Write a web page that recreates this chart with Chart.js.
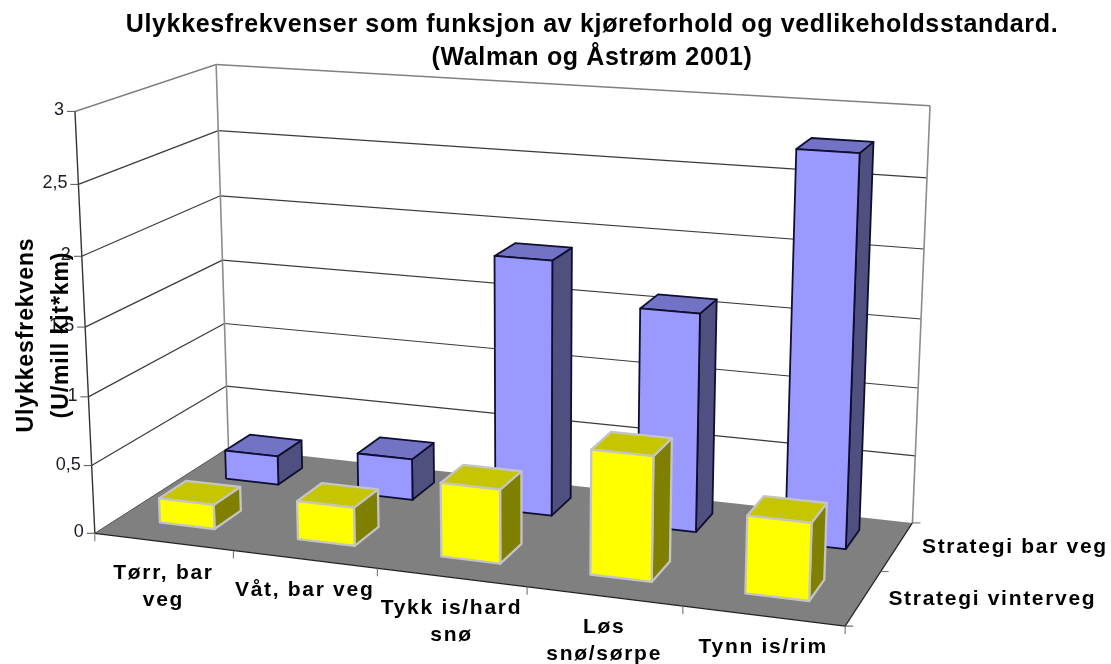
<!DOCTYPE html>
<html lang="no">
<head>
<meta charset="utf-8">
<title>Ulykkesfrekvenser</title>
<style>
    html, body { margin: 0; padding: 0; background: #fff; }
    canvas { display: block; filter: blur(0.55px); }
</style>
<script src="https://cdn.jsdelivr.net/npm/chart.js@4/dist/chart.umd.min.js"></script>
</head>
<body>
<canvas id="ulykkeChart" width="1111" height="664"></canvas>
<script>
// =========================================================
//                          DATA
// =========================================================
const titleLines = ['Ulykkesfrekvenser som funksjon av kjøreforhold og vedlikeholdsstandard.', '(Walman og Åstrøm 2001)'];
const yAxisLines = ['Ulykkesfrekvens', '(U/mill kjt*km)'];
const categories = [['Tørr, bar', 'veg'], ['Våt, bar veg'], ['Tykk is/hard', 'snø'], ['Løs', 'snø/sørpe'], ['Tynn is/rim']];
const seriesNames = ['Strategi vinterveg', 'Strategi bar veg'];   // front row first
const vintervegValues = [0.18, 0.28, 0.53, 0.88, 0.54];
const barVegValues = [0.22, 0.31, 1.88, 1.59, 2.78];

const BAR_SHARE = 0.4;
const DEPTH_SHIFT = 0.02;   // rows sit a little behind the middle of their slots
const FONT = '"Liberation Sans", Arial, sans-serif';

// colours per row: front face, top, side, outline
const rowColors = [
    { front: '#ffff00', top: '#c6c600', side: '#808000', line: '#c4c4c4', lineWidth: 2.3 },
    { front: '#9999ff', top: '#7373c6', side: '#4f4f80', line: '#0e0e30', lineWidth: 1.8 }
];

// =========================================================
//      PERSPECTIVE: box (u, w, v in 0..1) -> page pixels
// =========================================================
// u = along categories, w = depth into the picture, v = value height
const cameraPoints = [
    [0, 0, 0, 95, 531], [1, 0, 0, 844, 621], [1, 1, 0, 914, 522], [0, 1, 0, 229, 444],
    [0, 0, 1, 75, 110], [0, 1, 1, 216, 66], [1, 1, 1, 931, 105],
    [0.2, 0, 0, 233, 555], [0.4, 0, 0, 378, 573], [0.6, 0, 0, 527, 590], [0.8, 0, 0, 682, 607],
    [0, 0, 2 / 3, 82, 255], [0, 0, 1 / 6, 93, 462], [0, 1, 2 / 3, 220, 197], [0, 1, 1 / 6, 225, 388],
    [1, 1, 5 / 6, 927, 179], [1, 1, 2 / 3, 923, 249]
];

function solveCamera(points) {
    const n = 11;
    const A = [];
    for (let i = 0; i < n; i++) A.push(new Array(n + 1).fill(0));
    const addRow = (row, rhs) => {
        for (let i = 0; i < n; i++) {
            for (let j = 0; j < n; j++) A[i][j] += row[i] * row[j];
            A[i][n] += row[i] * rhs;
        }
    };
    points.forEach(([u, w, v, px, py]) => {
        const x = px / 1000, y = py / 1000;
        addRow([u, w, v, 1, 0, 0, 0, 0, -x * u, -x * w, -x * v], x);
        addRow([0, 0, 0, 0, u, w, v, 1, -y * u, -y * w, -y * v], y);
    });
    for (let c = 0; c < n; c++) {
        let best = c;
        for (let r = c + 1; r < n; r++) if (Math.abs(A[r][c]) > Math.abs(A[best][c])) best = r;
        [A[c], A[best]] = [A[best], A[c]];
        for (let r = 0; r < n; r++) {
            if (r === c) continue;
            const f = A[r][c] / A[c][c];
            for (let k = c; k <= n; k++) A[r][k] -= f * A[c][k];
        }
    }
    return A.map((row, i) => row[n] / row[i]);
}

const cam = solveCamera(cameraPoints);

function project(u, w, v) {
    const d = cam[8] * u + cam[9] * w + cam[10] * v + 1;
    return {
        x: 1000 * (cam[0] * u + cam[1] * w + cam[2] * v + cam[3]) / d,
        y: 1000 * (cam[4] * u + cam[5] * w + cam[6] * v + cam[7]) / d
    };
}

function polygon(ctx, pts, fill, stroke, width) {
    ctx.beginPath();
    pts.forEach((p, i) => (i ? ctx.lineTo(p.x, p.y) : ctx.moveTo(p.x, p.y)));
    ctx.closePath();
    if (fill) { ctx.fillStyle = fill; ctx.fill(); }
    if (stroke) {
        ctx.strokeStyle = stroke;
        ctx.lineWidth = width;
        ctx.lineJoin = 'round';
        ctx.stroke();
    }
}

function segment(ctx, a, b, color, width) {
    ctx.beginPath();
    ctx.moveTo(a.x, a.y);
    ctx.lineTo(b.x, b.y);
    ctx.strokeStyle = color;
    ctx.lineWidth = width;
    ctx.stroke();
}

function textLines(ctx, lines, x, y, lineHeight) {
    lines.forEach((line, i) => ctx.fillText(line, x, y + i * lineHeight));
}

// =========================================================
//          PLUGIN: walls, floor and 3D bars
// =========================================================
const box3dPlugin = {
    id: 'box3d',
    beforeDraw(chart) {
        chart.ctx.letterSpacing = '0.65px';
    },
    beforeDatasetsDraw(chart) {
        const ctx = chart.ctx;
        const area = chart.chartArea;
        const yScale = chart.scales.y;
        const xScale = chart.scales.x;
        const depthScale = chart.scales.depth;
        const toU = px => (px - area.left) / area.width;
        const toV = py => (area.bottom - py) / area.height;
        const toW = px => (px - depthScale.left) / depthScale.width;

        ctx.save();

        // floor
        polygon(ctx, [project(0, 0, 0), project(1, 0, 0), project(1, 1, 0), project(0, 1, 0)], '#808080');
        segment(ctx, project(0, 0, 0), project(1, 0, 0), '#222', 1.2);
        segment(ctx, project(1, 0, 0), project(1, 1, 0), '#222', 1.2);
        segment(ctx, project(0, 0, 0), project(0, 1, 0), '#555', 1);

        // gridlines on the two walls
        yScale.ticks.forEach((tick, i) => {
            const v = toV(yScale.getPixelForTick(i));
            const isTop = i === yScale.ticks.length - 1;
            if (v > 0) {
                const color = isTop ? '#808080' : '#3a3a3a';
                const width = isTop ? 1.6 : 1.2;
                segment(ctx, project(0, 0, v), project(0, 1, v), color, width);
                segment(ctx, project(0, 1, v), project(1, 1, v), color, width);
            }
        });
        segment(ctx, project(0, 1, 0), project(0, 1, 1), '#8c8c8c', 1.6);
        segment(ctx, project(1, 1, 0), project(1, 1, 1), '#8c8c8c', 1.6);
        segment(ctx, project(0, 0, 0), project(0, 0, 1), '#333', 1.4);

        // value axis ticks and labels
        ctx.font = '18px ' + FONT;
        ctx.letterSpacing = '0px';
        ctx.fillStyle = '#1c1c28';
        ctx.textAlign = 'right';
        ctx.textBaseline = 'middle';
        yScale.ticks.forEach((tick, i) => {
            const p = project(0, 0, toV(yScale.getPixelForTick(i)));
            segment(ctx, { x: p.x - 8, y: p.y }, p, '#555', 1);
            ctx.fillText(tick.label, p.x - 11, p.y - 1);
        });

        // category ticks
        for (let i = 0; i <= categories.length; i++) {
            const u = i / categories.length;
            const p = project(u, 0, 0);
            segment(ctx, p, { x: p.x, y: p.y + 8 }, '#666', 1);
        }
        const rightEnd = project(1, 0, 0);
        segment(ctx, rightEnd, { x: rightEnd.x + 8, y: rightEnd.y }, '#444', 1);
        const rightMid = project(1, 0.5, 0);
        segment(ctx, rightMid, { x: rightMid.x + 8, y: rightMid.y }, '#666', 1);
        const rightBack = project(1, 1, 0);
        segment(ctx, rightBack, { x: rightBack.x + 8, y: rightBack.y }, '#666', 1);

        // bars, back row first, each one from the bar element the library laid out
        for (let d = chart.data.datasets.length - 1; d >= 0; d--) {
            const colors = rowColors[d];
            const center = toW(depthScale.getPixelForValue(d)) + DEPTH_SHIFT;
            const halfDepth = BAR_SHARE / seriesNames.length / 2;
            const w0 = center - halfDepth, w1 = center + halfDepth;
            chart.getDatasetMeta(d).data.forEach(bar => {
                const u0 = toU(bar.x - bar.width / 2);
                const u1 = toU(bar.x + bar.width / 2);
                const top = toV(bar.y);
                const bottom = toV(bar.base);
                polygon(ctx, [project(u1, w0, bottom), project(u1, w1, bottom), project(u1, w1, top), project(u1, w0, top)],
                    colors.side, colors.line, colors.lineWidth);
                polygon(ctx, [project(u0, w0, top), project(u1, w0, top), project(u1, w1, top), project(u0, w1, top)],
                    colors.top, colors.line, colors.lineWidth);
                polygon(ctx, [project(u0, w0, bottom), project(u1, w0, bottom), project(u1, w0, top), project(u0, w0, top)],
                    colors.front, colors.line, colors.lineWidth);
            });
        }

        // category labels, hung under the front floor edge
        ctx.font = 'bold 21px ' + FONT;
        ctx.letterSpacing = '1.7px';
        ctx.fillStyle = '#000';
        ctx.textAlign = 'center';
        xScale.ticks.forEach((tick, i) => {
            const p = project(toU(xScale.getPixelForTick(i)), 0, 0);
            textLines(ctx, [].concat(tick.label), p.x, p.y + 31, 27);
        });

        // series labels next to the right floor edge
        ctx.textAlign = 'left';
        depthScale.ticks.forEach((tick, i) => {
            const p = project(1, toW(depthScale.getPixelForTick(i)), 0);
            ctx.fillText(tick.label, p.x + 25, p.y + 1);
        });

        // value axis title
        ctx.save();
        ctx.translate(44, 335);
        ctx.rotate(-Math.PI / 2);
        ctx.font = 'bold 23px ' + FONT;
        ctx.letterSpacing = '0.9px';
        ctx.textAlign = 'center';
        textLines(ctx, yAxisLines, 0, -17, 35);
        ctx.restore();

        ctx.restore();
    }
};

// =========================================================
//                        CHART
// =========================================================
new Chart(document.getElementById('ulykkeChart').getContext('2d'), {
    type: 'bar',
    data: {
        labels: categories,
        datasets: seriesNames.map((name, i) => ({
            label: name,
            data: i === 0 ? vintervegValues : barVegValues,
            grouped: false,
            barPercentage: BAR_SHARE,
            categoryPercentage: 1,
            backgroundColor: 'transparent',
            borderWidth: 0
        }))
    },
    options: {
        responsive: false,
        animation: false,
        layout: { padding: { left: 73, right: 0, top: 0, bottom: 133 } },
        plugins: {
            legend: { display: false },
            tooltip: { enabled: false },
            title: {
                display: true,
                text: titleLines,
                color: '#000',
                font: { family: FONT, size: 25, weight: 'bold', lineHeight: 1.3 },
                padding: { top: 9, bottom: 36 }
            }
        },
        scales: {
            x: { display: false },
            depth: { type: 'category', axis: 'x', labels: seriesNames, offset: true, display: false },
            y: {
                display: false,
                min: 0,
                max: 3,
                ticks: {
                    stepSize: 0.5,
                    callback: value => String(value).replace('.', ',')
                }
            }
        }
    },
    plugins: [box3dPlugin]
});
</script>
</body>
</html>
